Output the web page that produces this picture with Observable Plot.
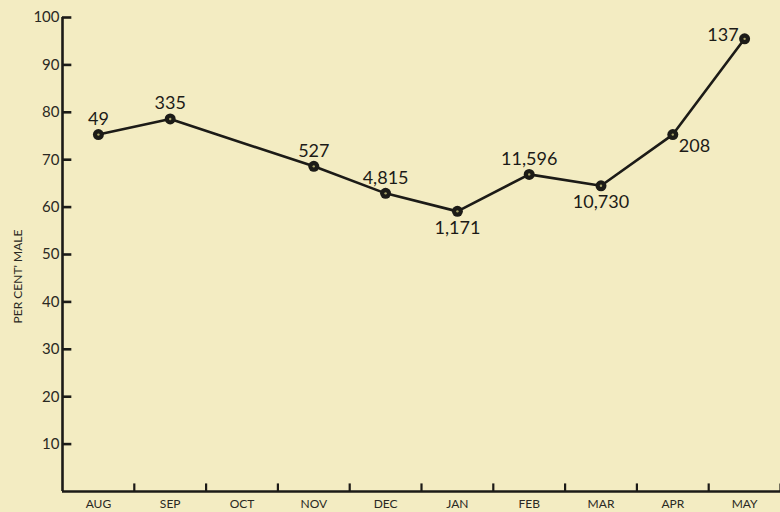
<!DOCTYPE html>
<html>
<head>
<meta charset="utf-8">
<script src="https://cdn.jsdelivr.net/npm/d3@7"></script>
<script src="https://cdn.jsdelivr.net/npm/@observablehq/plot@0.6"></script>
<style>
  html, body { margin: 0; padding: 0; background: #f3ecc2; }
  #chart { width: 780px; height: 512px; overflow: hidden; }
</style>
</head>
<body>
<div id="chart"></div>
<script>
// Axis categories (months along the x axis)
const months = ["AUG", "SEP", "OCT", "NOV", "DEC", "JAN", "FEB", "MAR", "APR", "MAY"];
// Months that have a sample
const sampleMonths = ["AUG", "SEP", "NOV", "DEC", "JAN", "FEB", "MAR", "APR", "MAY"];
// Per cent male for each sampled month
const percentMale = [75.3, 78.6, 68.6, 62.9, 59.1, 66.9, 64.5, 75.3, 95.5];
// Sample sizes printed next to each point
const sampleSizes = ["49", "335", "527", "4,815", "1,171", "11,596", "10,730", "208", "137"];
// Y tick values
const yTicks = [10, 20, 30, 40, 50, 60, 70, 80, 90, 100];
const yLabel = "PER CENT' MALE";

// label placement relative to each point
const placement = {AUG: "above", SEP: "above", NOV: "above", DEC: "above", JAN: "below",
                   FEB: "above", MAR: "below", APR: "right", MAY: "left"};

const data = sampleMonths.map((m, i) => ({
  month: m,
  pos: months.indexOf(m) + 0.5,
  value: percentMale[i],
  n: sampleSizes[i],
  place: placement[m]
}));
const monthCenters = months.map((_, i) => i + 0.5);
const monthEdges = months.map((_, i) => i + 1);

const ink = "#1c1b17";
const labelFont = 18;

const plot = Plot.plot({
  width: 780,
  height: 512,
  marginLeft: 62,
  marginRight: 0,
  marginTop: 17,
  marginBottom: 21,
  style: {background: "#f3ecc2", color: ink, fontFamily: "Lato, 'DejaVu Sans', sans-serif"},
  x: {type: "linear", domain: [0, months.length], axis: null},
  y: {domain: [0, 100], axis: null},
  marks: [
    // axes lines
    Plot.ruleY([0], {stroke: ink, strokeWidth: 2.6}),
    Plot.ruleX([0], {stroke: ink, strokeWidth: 2.6}),
    // y tick marks pointing inward
    Plot.ruleY(yTicks, {x1: 0, x2: 0.13, stroke: ink, strokeWidth: 2.6}),
    // x tick marks at month boundaries pointing up
    Plot.ruleX(monthEdges, {y1: 0, y2: 1.6, stroke: ink, strokeWidth: 2.2}),
    // y axis labels
    Plot.axisY({ticks: yTicks, tickSize: 0, tickPadding: 3, fontSize: 15, label: null, fill: "#2a2923"}),
    // x axis labels
    Plot.axisX({ticks: monthCenters, tickFormat: d => months[Math.floor(d)], tickSize: 0,
                tickPadding: 8, fontSize: 12, label: null, fill: "#2a2923",
                style: {letterSpacing: "0.6px"}}),
    // y axis title
    Plot.text([yLabel], {frameAnchor: "left", textAnchor: "middle", dx: -44, dy: 22, rotate: -90,
                         fontSize: 12, fill: "#2a2923", style: {letterSpacing: "1.3px"}}),
    // data line
    Plot.line(data, {x: "pos", y: "value", stroke: ink, strokeWidth: 2.6}),
    Plot.dot(data, {x: "pos", y: "value", r: 5.5, fill: ink, stroke: "none"}),
    Plot.dot(data, {x: "pos", y: "value", r: 1.2, fill: "#a9a46a", stroke: "none"}),
    // labels
    Plot.text(data.filter(d => d.place === "above"), {x: "pos", y: "value", text: "n",
      lineAnchor: "bottom", dy: -9.5, fontSize: labelFont, fill: ink}),
    Plot.text(data.filter(d => d.place === "below"), {x: "pos", y: "value", text: "n",
      lineAnchor: "top", dy: 9.5, fontSize: labelFont, fill: ink}),
    Plot.text(data.filter(d => d.place === "right"), {x: "pos", y: "value", text: "n",
      lineAnchor: "bottom", textAnchor: "start", dx: 6, dy: 17, fontSize: labelFont, fill: ink}),
    Plot.text(data.filter(d => d.place === "left"), {x: "pos", y: "value", text: "n",
      lineAnchor: "bottom", textAnchor: "end", dx: -6, dy: 2, fontSize: labelFont, fill: ink})
  ]
});
document.getElementById("chart").appendChild(plot);
</script>
</body>
</html>
